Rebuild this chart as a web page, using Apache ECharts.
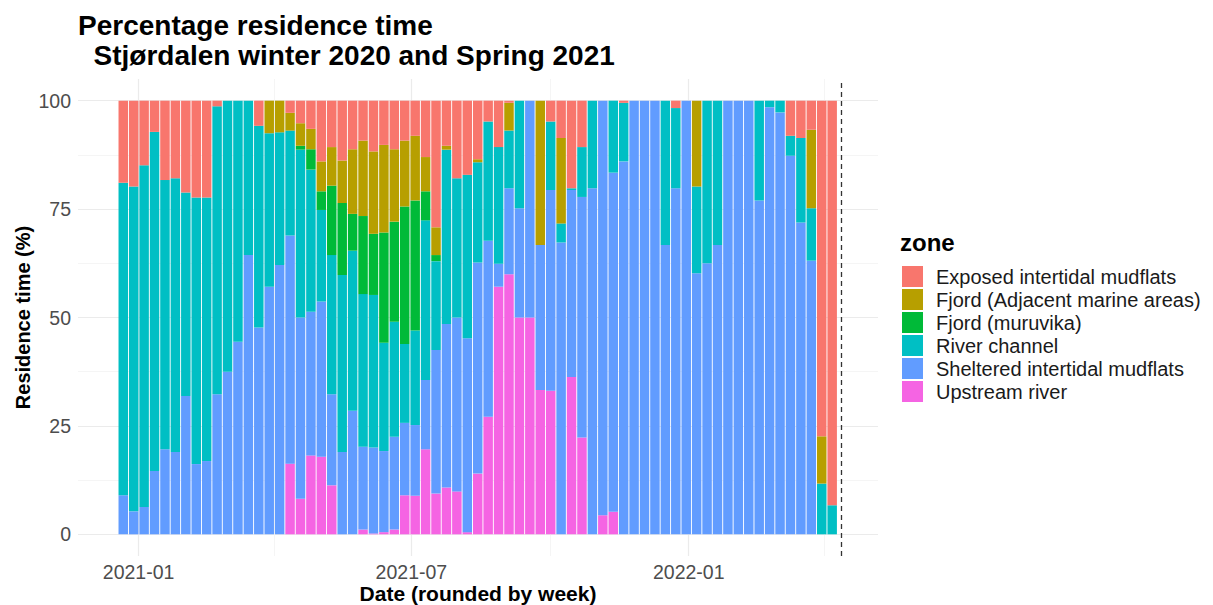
<!DOCTYPE html>
<html><head><meta charset="utf-8">
<script src="https://cdn.jsdelivr.net/npm/echarts@6/dist/echarts.min.js"></script>
<style>html,body{margin:0;padding:0;background:#fff}#c{width:1213px;height:605px}</style>
</head><body><div id="c"></div>
<script>
const weeks = ['2020-12-19','2020-12-26',
'2021-01-02','2021-01-09','2021-01-16','2021-01-23','2021-01-30','2021-02-06','2021-02-13','2021-02-20','2021-02-27',
'2021-03-06','2021-03-13','2021-03-20','2021-03-27','2021-04-03','2021-04-10','2021-04-17','2021-04-24',
'2021-05-01','2021-05-08','2021-05-15','2021-05-22','2021-05-29','2021-06-05','2021-06-12','2021-06-19','2021-06-26',
'2021-07-03','2021-07-10','2021-07-17','2021-07-24','2021-07-31','2021-08-07','2021-08-14','2021-08-21','2021-08-28',
'2021-09-04','2021-09-11','2021-09-18','2021-09-25','2021-10-02','2021-10-09','2021-10-16','2021-10-23','2021-10-30',
'2021-11-06','2021-11-13','2021-11-20','2021-11-27','2021-12-04','2021-12-11','2021-12-18','2021-12-25',
'2022-01-01','2022-01-08','2022-01-15','2022-01-22','2022-01-29','2022-02-05','2022-02-12','2022-02-19','2022-02-26',
'2022-03-05','2022-03-12','2022-03-19','2022-03-26','2022-04-02','2022-04-09'];

const zones = ['Exposed intertidal mudflats','Fjord (Adjacent marine areas)','Fjord (muruvika)','River channel','Sheltered intertidal mudflats','Upstream river'];

const exposed = [18.9,19.8,14.9,7.2,18.3,17.9,21.2,22.3,22.3,1.3,
 0,0,0,5.8,0,0,2.8,5.2,6.5,14.0,
 10.7,13.8,11.2,9.2,11.7,10.2,11.2,9.2,8.1,13.0,
 29.2,10.4,17.9,17.1,13.5,4.8,10.7,0.5,0,0,
 0,4.8,8.6,20.2,10.7,0,0,0,0.5,0,
 0,0,0,1.7,0,0,0,0,0,0,
 0,0,0,0,8.1,8.6,6.7,77.4,93.3];
const fjordAdjacent = [0,0,0,0,0,0,0,0,0,0,
 0,0,0,0,7.5,7.3,4.1,5.2,4.7,6.9,
 8.9,9.8,14.9,17.4,19.0,20.2,16.7,15.2,14.9,7.9,
 6.4,0.9,0,0,0.7,0,0,6.4,0,0,
 33.3,0,19.7,0,0,0,0,0,0,0,
 0,0,0,0,0,19.8,0,0,0,0,
 0,0,0,0,0,0,18.1,10.9,0];
const fjordMuruvika = [0,0,0,0,0,0,0,0,0,0,
 0,0,0,0,0,0,0,0.9,4.7,4.3,
 16.0,16.6,8.5,18.0,14.1,25.4,23.1,31.7,30.0,6.7,
 1.4,0,0,0,0,0,0,0,0,0,
 0,0,0,0,0,0,0,0,0,0,
 0,0,0,0,0,0,0,0,0,0,
 0,0,0,0,0,0,0,0,0];
const riverChannel = [72.1,74.9,78.8,78.2,62.1,63.1,46.9,61.5,60.8,66.4,
 62.5,55.6,35.6,46.5,35.4,30.6,24.2,38.7,32.8,21.1,
 32.1,40.8,36.9,35.2,35.2,25.0,26.5,18.2,21.8,36.8,
 20.5,40.2,32.1,37.7,23.1,27.5,26.9,13.3,24.8,0,
 0,15.8,4.4,0.4,11.5,20.2,0,16.6,13.5,0,
 0,0,33.3,18.5,0,20.0,37.5,33.3,0,0,
 0,23.0,1.5,2.7,4.6,19.5,12.1,11.7,6.7];
const sheltered = [9.0,5.3,6.3,14.6,19.6,19.0,31.9,16.2,16.9,32.3,
 37.5,44.4,64.4,47.7,57.1,62.1,52.6,41.8,33.1,35.8,
 21.0,19.0,28.5,19.1,19.8,18.7,21.4,16.7,16.3,16.0,
 33.1,37.7,40.1,44.7,48.7,40.6,5.3,19.8,25.2,50.0,
 33.4,46.3,67.3,43.1,55.5,79.8,95.6,78.2,86.0,100,
 100,100,66.7,79.8,100,60.2,62.5,66.7,100,100,
 100,77.0,98.5,97.3,87.3,71.9,63.1,0,0];
const upstream = [0,0,0,0,0,0,0,0,0,0,
 0,0,0,0,0,0,16.3,8.2,18.2,17.9,
 11.3,0,0,1.1,0.2,0.5,1.1,9.0,8.9,19.6,
 9.4,10.8,9.9,0.5,14.0,27.1,57.1,60.0,50.0,50.0,
 33.3,33.1,0,36.3,22.3,0,4.4,5.2,0,0,
 0,0,0,0,0,0,0,0,0,0,
 0,0,0,0,0,0,0,0,0];

const xMajorBreaks = ['2021-01-01','2021-07-01','2022-01-01'];
const xMinorBreaks = ['2021-04-01','2021-10-01','2022-04-01'];
const yMajorBreaks = [0,25,50,75,100];
const yMinorBreaks = [12.5,37.5,62.5,87.5];
const cutoffDate = '2022-04-15';

function ts(s){const p=s.split('-').map(Number);return Date.UTC(p[0],p[1]-1,p[2]);}
function fmt(v){const d=new Date(v);const m=d.getUTCMonth()+1;return d.getUTCFullYear()+'-'+(m<10?'0'+m:m);}

const colors = {
 'Exposed intertidal mudflats':'#F8766D',
 'Fjord (Adjacent marine areas)':'#B79F00',
 'Fjord (muruvika)':'#00BA38',
 'River channel':'#00BFC4',
 'Sheltered intertidal mudflats':'#619CFF',
 'Upstream river':'#F564E3'
};
const valuesByZone = {
 'Exposed intertidal mudflats':exposed,
 'Fjord (Adjacent marine areas)':fjordAdjacent,
 'Fjord (muruvika)':fjordMuruvika,
 'River channel':riverChannel,
 'Sheltered intertidal mudflats':sheltered,
 'Upstream river':upstream
};
const FONT = '"Liberation Sans", Arial, Helvetica, sans-serif';
const xMin = Date.UTC(2020,10,21,19);
const xMax = Date.UTC(2022,4,6,14);

const stackOrder = zones.slice().reverse();
const series = stackOrder.map(function(z, i){
  const s = {
    name: z, type: 'bar', stack: 'all', barWidth: 9.5, xAxisIndex: 0, yAxisIndex: 0,
    itemStyle: {color: colors[z]},
    emphasis: {disabled: true},
    data: weeks.map(function(w, k){ return [ts(w), valuesByZone[z][k]]; })
  };
  if (i === stackOrder.length - 1) {
    s.markLine = {
      silent: true, symbol: 'none', label: {show: false},
      lineStyle: {type: [5, 4], color: '#333333', width: 1.3},
      data: [{xAxis: ts(cutoffDate)}]
    };
  }
  return s;
});

const chart = echarts.init(document.getElementById('c'), null, {renderer: 'svg'});
chart.setOption({
  animation: false,
  backgroundColor: '#ffffff',
  textStyle: {fontFamily: FONT},
  title: [
    {text: 'Percentage residence time\n\u00a0\u00a0Stjørdalen winter 2020 and Spring 2021',
     left: 78, top: 10, padding: 0,
     textStyle: {fontSize: 28, fontWeight: 'bold', color: '#000', lineHeight: 30, fontFamily: FONT}},
    {text: 'zone', left: 900, top: 230, padding: 0,
     textStyle: {fontSize: 24, fontWeight: 'bold', color: '#000', fontFamily: FONT}}
  ],
  legend: {
    data: zones, orient: 'vertical', left: 902, top: 266, padding: 0,
    itemWidth: 21, itemHeight: 21, itemGap: 2, icon: 'rect', selectedMode: false,
    textStyle: {fontSize: 20, color: '#1A1A1A', padding: [0,0,0,8], fontFamily: FONT}
  },
  grid: {left: 78, right: 335, top: 79, bottom: 49, containLabel: false, outerBoundsMode: 'none'},
  xAxis: [
    {type: 'time', min: xMin, max: xMax, show: false,
     axisLabel: {show: false}, axisTick: {show: false}, axisLine: {show: false},
     splitLine: {show: false}},
    {type: 'value', min: xMin, max: xMax, scale: true, position: 'bottom',
     name: 'Date (rounded by week)', nameLocation: 'middle', nameGap: 27, nameMoveOverlap: false,
     nameTextStyle: {fontSize: 21, fontWeight: 'bold', color: '#000', fontFamily: FONT},
     axisLine: {show: false},
     axisTick: {show: false, customValues: xMajorBreaks.map(ts)},
     axisLabel: {customValues: xMajorBreaks.map(ts), formatter: fmt, fontSize: 19.5, color: '#4D4D4D', margin: 6, fontFamily: FONT},
     splitLine: {show: true, lineStyle: {color: '#EBEBEB', width: 1.2}}},
    {type: 'value', min: xMin, max: xMax, scale: true, position: 'bottom',
     axisLine: {show: false},
     axisTick: {show: false, customValues: xMinorBreaks.map(ts)},
     axisLabel: {show: false, customValues: xMinorBreaks.map(ts)},
     splitLine: {show: true, lineStyle: {color: '#F3F3F3', width: 0.8}}}
  ],
  yAxis: [
    {type: 'value', min: -5, max: 105,
     name: 'Residence time (%)', nameLocation: 'middle', nameGap: 45, nameMoveOverlap: false,
     nameTextStyle: {fontSize: 20, fontWeight: 'bold', color: '#000', fontFamily: FONT},
     axisLine: {show: false},
     axisTick: {show: false, customValues: yMajorBreaks},
     axisLabel: {customValues: yMajorBreaks, fontSize: 19.5, color: '#4D4D4D', margin: 7, fontFamily: FONT},
     splitLine: {show: true, lineStyle: {color: '#EBEBEB', width: 1.2}}},
    {type: 'value', min: -5, max: 105, position: 'left',
     axisLine: {show: false},
     axisTick: {show: false, customValues: yMinorBreaks},
     axisLabel: {show: false, customValues: yMinorBreaks},
     splitLine: {show: true, lineStyle: {color: '#F3F3F3', width: 0.8}}}
  ],
  series: series
});
</script>
</body></html>
